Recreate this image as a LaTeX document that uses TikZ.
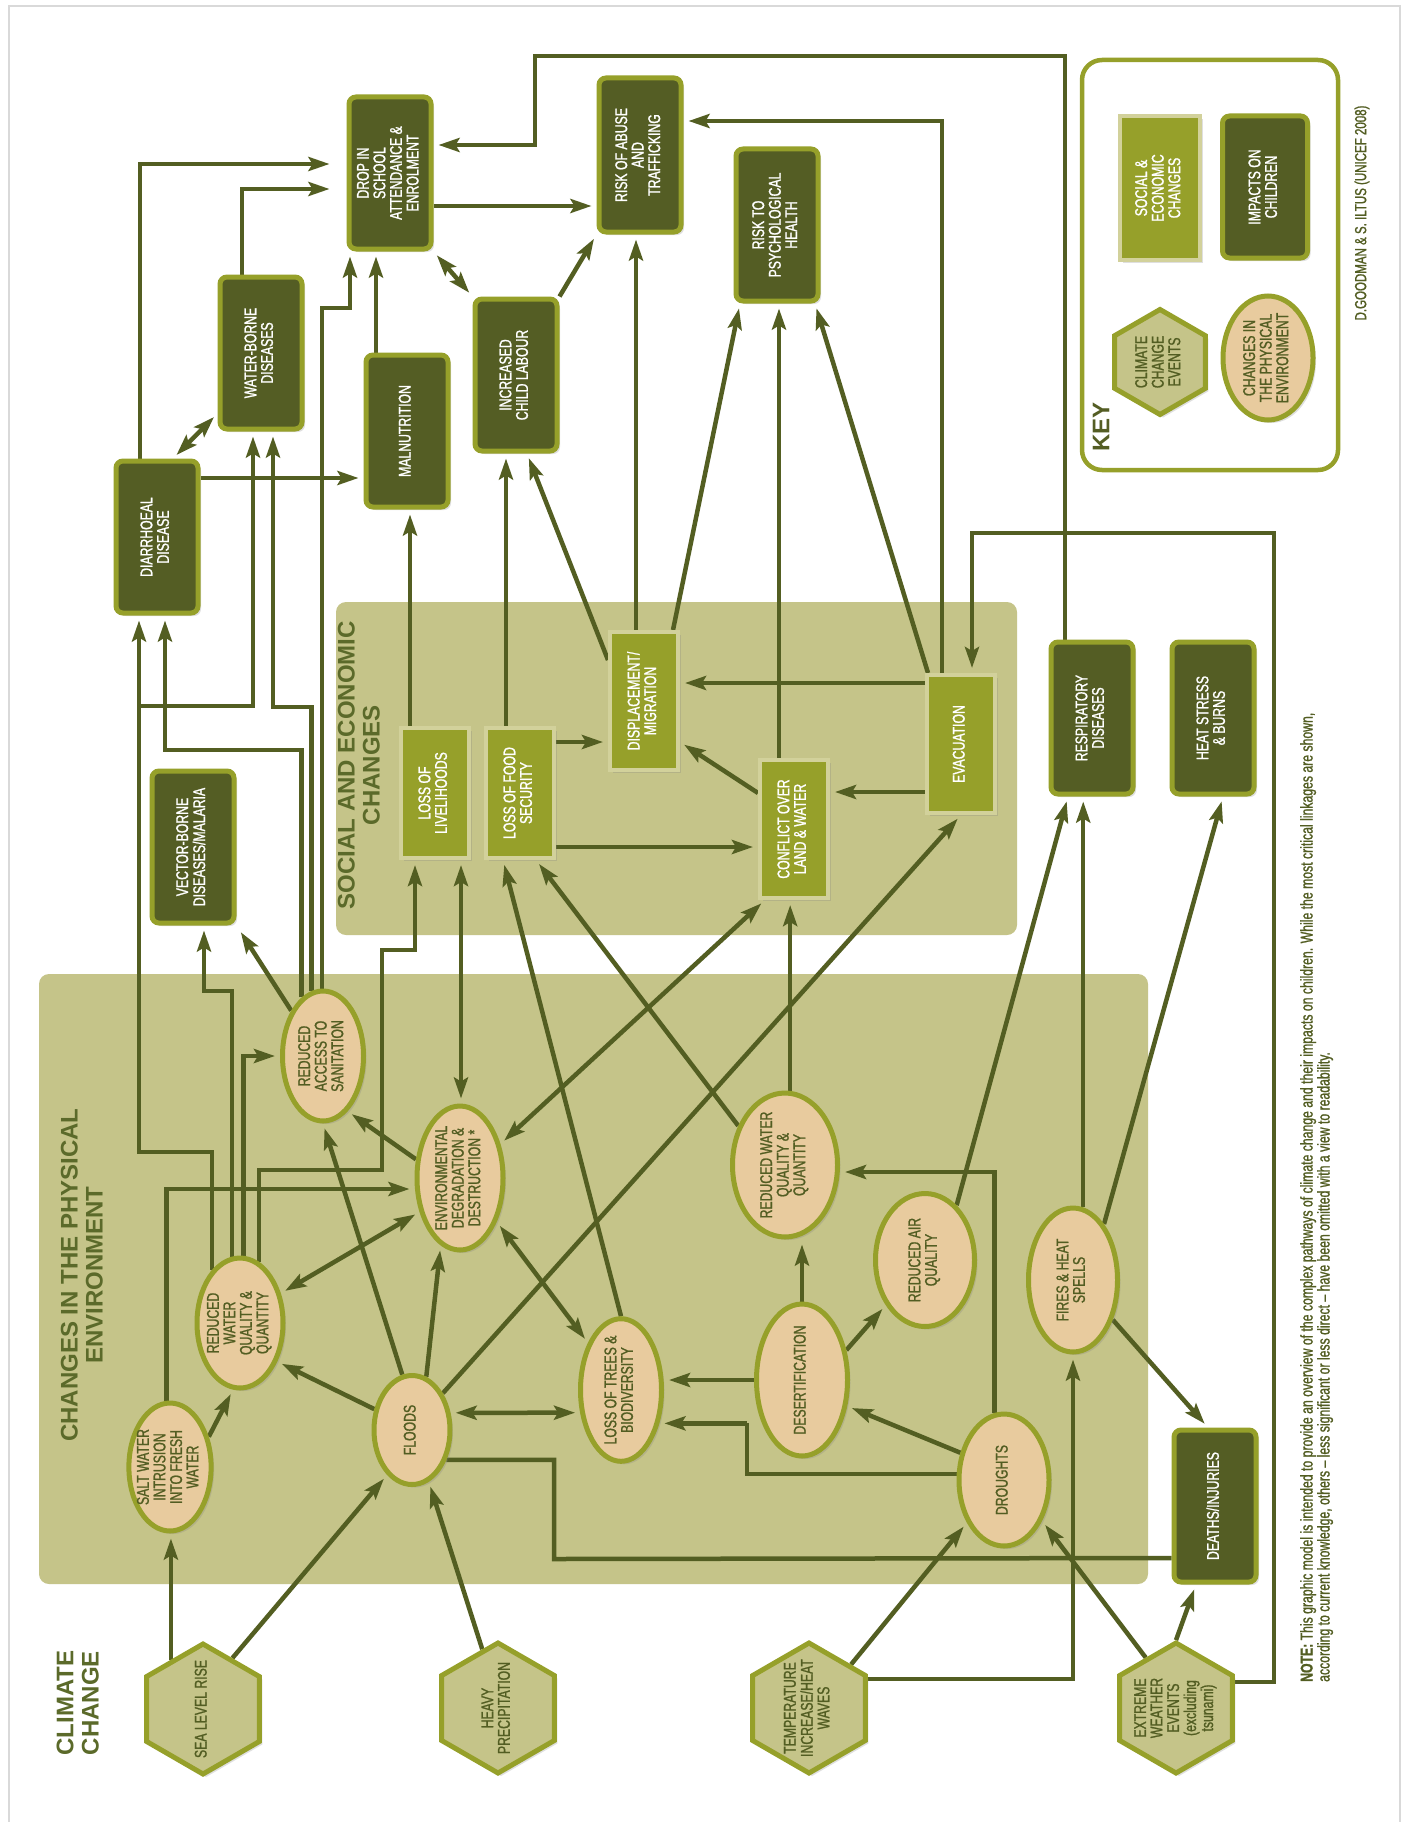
\documentclass[tikz,border=0pt]{standalone}
\usepackage{fontspec}
\usepackage{graphicx}
\usetikzlibrary{arrows.meta,shapes.geometric,shadows}
\newfontfamily\condfont[FakeStretch=0.72, FakeBold=1.2]{Liberation Sans}
\newfontfamily\headfont{Liberation Sans}

\definecolor{wire}{HTML}{535E22}
\definecolor{impfill}{HTML}{545D24}
\definecolor{limeedge}{HTML}{96A02A}
\definecolor{socfill}{HTML}{96A02A}
\definecolor{socedge}{HTML}{D2D19B}
\definecolor{khaki}{HTML}{C5C489}
\definecolor{sand}{HTML}{E8CB9E}
\definecolor{olivetext}{HTML}{525D22}
\definecolor{headcol}{HTML}{5B6A2A}

\pgfdeclarelayer{bg}
\pgfdeclarelayer{wires}
\pgfsetlayers{bg,wires,main}

% upright text, set sideways
\newcommand{\vlab}[1]{\rotatebox{90}{\begin{tabular}{@{}c@{}}#1\end{tabular}}}

\tikzset{
  boxfont/.style={font={\condfont\fontsize{17}{15.7}\selectfont}},
  softshadow/.style={drop shadow={opacity=0.25, shadow xshift=3pt, shadow yshift=-3pt}},
  impact/.style={boxfont, rectangle, rounded corners=7pt, fill=impfill, draw=limeedge,
    line width=5pt, text=white, inner sep=0pt, minimum width=82pt, minimum height=152pt, softshadow},
  social/.style={boxfont, rectangle, fill=socfill, draw=socedge, line width=4pt,
    text=white, inner sep=0pt, minimum width=68pt, minimum height=130pt, softshadow},
  physical/.style={boxfont, ellipse, fill=sand, draw=limeedge, line width=5pt,
    text=olivetext, inner sep=-4pt, softshadow},
  hextext/.style={boxfont, text=olivetext, inner sep=0pt},
  cchex/.style={regular polygon, regular polygon sides=6, shape border rotate=90,
    fill=khaki, draw=limeedge, line width=5pt, inner sep=0pt, minimum size=130pt, softshadow,
    label={[hextext]center:\vlab{#1}}},
  heading/.style={font={\headfont\bfseries\fontsize{24}{25}\selectfont}, text=headcol, inner sep=0pt},
  wireline/.style={draw=wire, line width=4.5pt},
  arr/.style={wireline, -{Stealth[length=21pt, width=14pt, inset=4pt]}, shorten >=5pt},
  dblarr/.style={wireline, {Stealth[length=21pt, width=14pt, inset=4pt]}-{Stealth[length=21pt, width=14pt, inset=4pt]},
    shorten >=5pt, shorten <=5pt},
}

\begin{document}
\begin{tikzpicture}[x=1pt, y=-1pt]
  \useasboundingbox (0,0) rectangle (1409,1822);
  \begin{pgfonlayer}{bg}
    \fill[white] (0,0) rectangle (1409,1822);
    \draw[black!15, line width=2pt] (9,1822) -- (9,6) -- (1400,6) -- (1400,1822);
    \fill[khaki, rounded corners=10pt] (39,974) rectangle (1148,1584);
    \fill[khaki, rounded corners=10pt] (336,602) rectangle (1017,935);
    \draw[limeedge, line width=4.5pt, fill=white, rounded corners=20pt] (1082,60) rectangle (1338,470);
  \end{pgfonlayer}

  % headings
  \node[heading] (cchead) at (81,1703) {\vlab{CLIMATE\\CHANGE}};
  \node[heading] (physhead) at (85,1275) {\vlab{CHANGES IN THE PHYSICAL\\ENVIRONMENT}};
  \node[heading] (sochead) at (362,765) {\vlab{SOCIAL AND ECONOMIC\\CHANGES}};
  \node[heading, text=impfill] (keyhead) at (1101,427) {\rotatebox{90}{KEY}};

  % impacts on children
  \node[impact] (drop) at (390,173) {\vlab{DROP IN\\SCHOOL\\ATTENDANCE \&\\ENROLMENT}};
  \node[impact, minimum height=154pt] (abuse) at (640,155) {\vlab{RISK OF ABUSE\\AND\\TRAFFICKING}};
  \node[impact] (psych) at (777,225) {\vlab{RISK TO\\PSYCHOLOGICAL\\HEALTH}};
  \node[impact] (water) at (261,353) {\vlab{WATER-BORNE\\DISEASES}};
  \node[impact] (maln) at (407,431) {\vlab{MALNUTRITION}};
  \node[impact] (labour) at (516,375) {\vlab{INCREASED\\CHILD LABOUR}};
  \node[impact] (diar) at (157,537) {\vlab{DIARRHOEAL\\DISEASE}};
  \node[impact] (vector) at (193,847) {\vlab{VECTOR-BORNE\\DISEASES/MALARIA}};
  \node[impact] (resp) at (1092,718) {\vlab{RESPIRATORY\\DISEASES}};
  \node[impact] (heat) at (1213,718) {\vlab{HEAT STRESS\\\& BURNS}};
  \node[impact] (deaths) at (1215,1506) {\vlab{DEATHS/INJURIES}};

  % social and economic changes
  \node[social] (liveli) at (435,793) {\vlab{LOSS OF\\LIVELIHOODS}};
  \node[social] (food) at (520,793) {\vlab{LOSS OF FOOD\\SECURITY}};
  \node[social, minimum height=138pt] (displ) at (644,701) {\vlab{DISPLACEMENT/\\MIGRATION}};
  \node[social, minimum height=138pt] (conflict) at (794,829) {\vlab{CONFLICT OVER\\LAND \& WATER}};
  \node[social, minimum height=138pt] (evac) at (961,744) {\vlab{EVACUATION}};

  % changes in the physical environment
  \node[physical, minimum width=81pt, minimum height=130pt] (sanit) at (323,1056) {\vlab{REDUCED\\ACCESS TO\\SANITATION}};
  \node[physical, minimum width=86pt, minimum height=144pt] (envdeg) at (460,1178) {\vlab{ENVIRONMENTAL\\DEGRADATION \&\\DESTRUCTION *}};
  \node[physical, minimum width=86pt, minimum height=130pt] (rwqL) at (240,1323) {\vlab{REDUCED\\WATER\\QUALITY \&\\QUANTITY}};
  \node[physical, minimum width=82pt, minimum height=128pt] (salt) at (170,1467) {\vlab{SALT WATER\\INTRUSION\\INTO FRESH\\WATER}};
  \node[physical, minimum width=76pt, minimum height=109pt] (floods) at (412,1430) {\vlab{FLOODS}};
  \node[physical, minimum width=81pt, minimum height=140pt] (trees) at (621,1390) {\vlab{LOSS OF TREES \&\\BIODIVERSITY}};
  \node[physical, minimum width=105pt, minimum height=144pt] (rwqR) at (785,1165) {\vlab{REDUCED WATER\\QUALITY \&\\QUANTITY}};
  \node[physical, minimum width=91pt, minimum height=152pt] (desert) at (802,1380) {\vlab{DESERTIFICATION}};
  \node[physical, minimum width=99pt, minimum height=133pt] (air) at (925,1260) {\vlab{REDUCED AIR\\QUALITY}};
  \node[physical, minimum width=89pt, minimum height=144pt] (fires) at (1073,1280) {\vlab{FIRES \& HEAT\\SPELLS}};
  \node[physical, minimum width=90pt, minimum height=132pt] (drought) at (1004,1480) {\vlab{DROUGHTS}};

  % climate change events
  \node[cchex={SEA LEVEL RISE}] (slr) at (203,1709) {};
  \node[cchex={HEAVY\\PRECIPITATION}] (rain) at (498,1708) {};
  \node[cchex={TEMPERATURE\\INCREASE/HEAT\\WAVES}] (temp) at (809,1708) {};
  \node[cchex={EXTREME\\WEATHER\\EVENTS\\(excluding\\tsunami)}] (extreme) at (1176,1708) {};

  % key
  \node[social, minimum width=80pt, minimum height=144pt] (keysoc) at (1160,188) {\vlab{SOCIAL \&\\ECONOMIC\\CHANGES}};
  \node[impact, minimum width=85pt, minimum height=142pt] (keyimp) at (1265,187) {\vlab{IMPACTS ON\\CHILDREN}};
  \node[cchex={CLIMATE\\CHANGE\\EVENTS}, minimum size=105pt] (keyhex) at (1160,362) {};
  \node[physical, minimum width=90pt, minimum height=124pt] (keyenv) at (1268,358) {\vlab{CHANGES IN\\THE PHYSICAL\\ENVIRONMENT}};
  \node[font={\condfont\fontsize{16}{16}\selectfont}, text=olivetext, inner sep=0pt] (credit) at (1362,213)
    {\rotatebox{90}{D.GOODMAN \& S. ILTUS (UNICEF 2008)}};

  \node[anchor=south west, font={\condfont\fontsize{17}{15.5}\selectfont}, text=olivetext, inner sep=0pt] (note) at (1300,1682)
    {\rotatebox{90}{\begin{tabular}{@{}l@{}}\textbf{NOTE:} This graphic model is intended to provide an overview of the complex pathways of climate change and their impacts on children. While the most critical linkages are shown,\\according to current knowledge, others – less significant or less direct – have been omitted with a view to readability.\end{tabular}}};

  \coordinate (jdiar) at (139,706);

  \begin{pgfonlayer}{wires}
    % links between impacts
    \draw[arr] ([yshift=-33pt]drop.east) -- ([yshift=-33pt]drop.east -| abuse.west);
    \draw[arr] ([xshift=-27pt]resp.north) |- (535,56) |- ([yshift=28pt]drop.east);
    \draw[arr] ([xshift=-31pt]maln.north) -- ([xshift=-31pt]maln.north |- drop.south);
    \draw[dblarr] (drop.south east) -- (labour.north west);
    \draw[arr] (labour.north east) -- (abuse.south west);
    \draw[arr, shorten >=17pt] ([xshift=-17pt]diar.north) |- ([yshift=9pt]drop.west);
    \draw[arr, shorten >=17pt] ([xshift=-19pt]water.north) |- ([yshift=-16pt]drop.west);
    \draw[dblarr] ([xshift=16pt]diar.north) -- ([yshift=18pt]water.south west);
    \draw[arr] ([yshift=59pt]diar.east) -- ([yshift=59pt]diar.east -| maln.west);

    % social and economic changes
    \draw[arr] ([xshift=-19pt]evac.north) |- ([yshift=34pt]abuse.east);
    \draw[arr] ([yshift=26pt]extreme.east) -| (1274,533) -| ([xshift=11pt]evac.north);
    \draw[arr] ([xshift=-25pt]liveli.north) -- ([xshift=-25pt]liveli.north |- maln.south);
    \draw[arr] ([xshift=-14pt]food.north) -- ([xshift=-14pt]food.north |- labour.south);
    \draw[arr] ([yshift=51pt]food.east) -- ([yshift=51pt]food.east -| displ.west);
    \draw[arr] ([yshift=-54pt]food.east) -- ([yshift=-54pt]food.east -| conflict.west);
    \draw[arr] ([yshift=36pt]conflict.west) -- ([yshift=-41pt]displ.east);
    \draw[arr] ([yshift=61pt]evac.west) -- ([yshift=61pt]evac.west -| displ.east);
    \draw[arr] ([yshift=-48pt]evac.west) -- ([yshift=-48pt]evac.west -| conflict.east);
    \draw[arr] ([yshift=-30pt]displ.north west) -- ([xshift=11pt]labour.south);
    \draw[arr] ([xshift=29pt]displ.north) -- ([xshift=-37pt]psych.south);
    \draw[arr] ([xshift=-8pt]displ.north) -- ([xshift=-8pt]displ.north |- abuse.south);
    \draw[arr] ([xshift=-15pt]conflict.north) -- ([xshift=-15pt]conflict.north |- psych.south);
    \draw[arr] ([xshift=3pt]evac.north west) -- ([xshift=38pt]psych.south);

    % physical environment to impacts
    \draw[arr] ([xshift=-1pt]sanit.north) |- (350,308) -- ([xshift=-40pt]drop.south);
    \draw[arr] (sanit.100) |- (273,707) -- ([xshift=12pt]water.south);
    \draw[arr] (sanit.110) |- (165,750) -- ([xshift=8pt]diar.south);
    \draw[arr] (rwqL.118) |- (139,1152) -- ([xshift=-18pt]diar.south);
    \draw[arr] (jdiar) -| ([xshift=-8pt]water.south);
    \draw[arr] (rwqL.97) |- (204,991) -- ([xshift=11pt]vector.south);
    \draw[arr, shorten >=8pt] (sanit.125) -- (vector.south east);
    \draw[arr] (rwqL.87) |- (sanit.west);
    \draw[arr] (rwqL.73) |- (382,1170) |- (415,950) -- ([xshift=-20pt]liveli.south);
    \draw[dblarr] ([xshift=26pt]liveli.south) -- ([xshift=26pt]liveli.south |- envdeg.north);
    \draw[arr] (trees.north) -- ([xshift=-17pt]food.south);
    \draw[arr] (rwqR.140) -- ([xshift=16pt]food.south);
    \draw[arr] (rwqR.86) -- (rwqR.86 |- conflict.south);
    \draw[dblarr] (envdeg.40) -- ([xshift=7pt]conflict.south west);
    \draw[arr] (floods.50) -- (evac.south);
    \draw[arr] (air.60) -- ([xshift=-24pt]resp.south);
    \draw[arr] (fires.82) -- (fires.82 |- resp.south);
    \draw[arr] (fires.61) -- ([xshift=10pt]heat.south);
    \draw[arr] (fires.-45) -- ([xshift=-7pt]deaths.north);
    \draw[wireline] (floods.-41) -| (554,1559) -- ([yshift=-52pt]deaths.west);

    % within the physical environment
    \draw[arr] (drought.148) -- (desert.330);
    \draw[arr] ([yshift=6pt]drought.west) -| (747,1423) |- (trees.-41);
    \draw[arr] (drought.98) |- ([yshift=-7pt]rwqR.east);
    \draw[arr] (desert.west) -- (desert.west -| trees.east);
    \draw[arr] (desert.north) -- (desert.north |- rwqR.south);
    \draw[arr] (desert.34) -- (air.229);
    \draw[dblarr] (floods.24) -- (trees.209);
    \draw[dblarr] (envdeg.310) -- (trees.125);
    \draw[arr] (floods.75) -- (envdeg.254);
    \draw[arr] (floods.100) -- (sanit.south);
    \draw[arr] (floods.151) -- (rwqL.314);
    \draw[dblarr] (envdeg.220) -- (rwqL.36);
    \draw[arr] (envdeg.157) -- (sanit.294);
    \draw[arr] (salt.38) -- (rwqL.264);
    \draw[arr] (salt.93) |- ([yshift=-11pt]envdeg.west);

    % climate change events
    \draw[arr] (slr.123) -- (slr.123 |- salt.south);
    \draw[arr] (slr.60) -- (floods.241);
    \draw[arr] (rain.105) -- (floods.288);
    \draw[arr] ([yshift=29pt]temp.east) -| (fires.south);
    \draw[arr] (temp.46) -- (drought.229);
    \draw[arr] (extreme.121) -- (drought.313);
    \draw[arr] (extreme.north) -- ([xshift=-19pt]deaths.south);
  \end{pgfonlayer}
\end{tikzpicture}
\end{document}
